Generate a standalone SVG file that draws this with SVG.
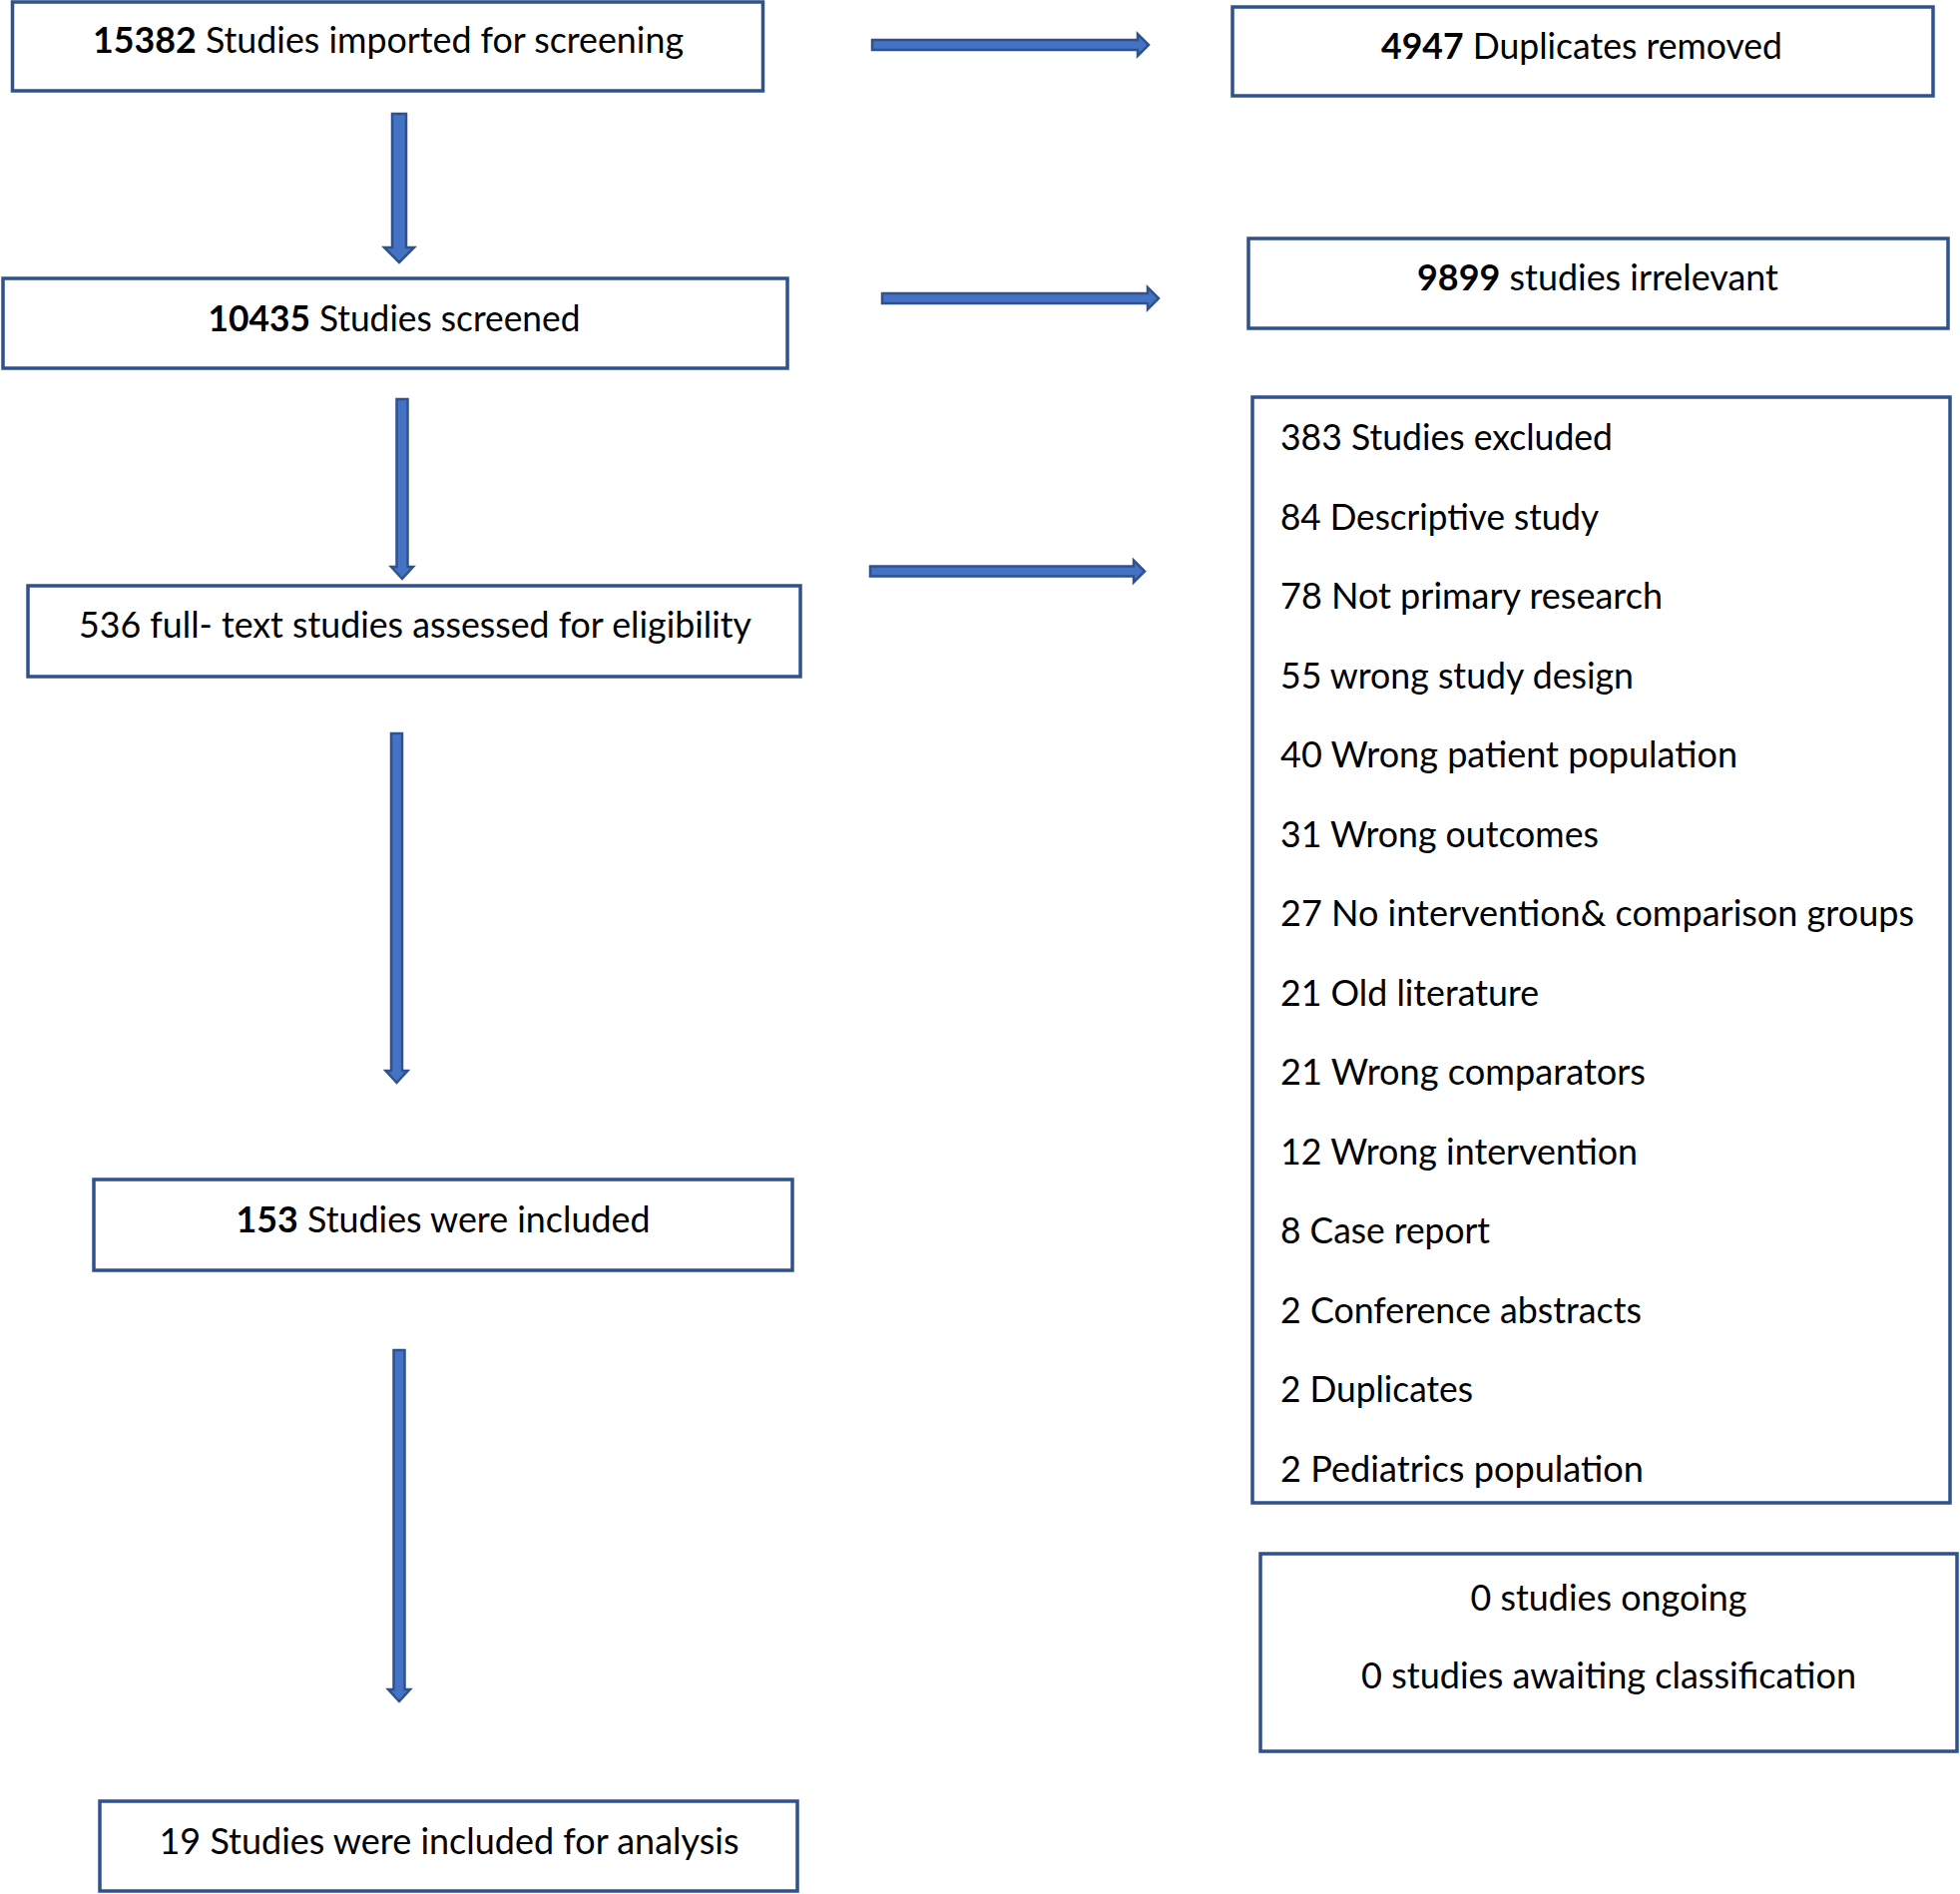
<svg xmlns="http://www.w3.org/2000/svg" width="1964" height="1898" viewBox="0 0 1964 1898">
<style>
.box{fill:#fff;stroke:#2F528F;stroke-width:3.5}
.t{font-family:Lato,"Liberation Sans",sans-serif;font-size:36px;fill:#000}
.c{text-anchor:middle}
.b{font-weight:bold}
.arr{fill:#4472C4;stroke:#2F528F;stroke-width:2.5;stroke-linejoin:miter}
</style>
<rect width="1964" height="1898" fill="#fff"/>
<g id="connectors">
<path class="arr" d="M393,114 L407,114 L407,248 L415,248 L400,263 L385,248 L393,248 Z"/>
<path class="arr" d="M874,40 L1140,40 L1140,34 L1151,45 L1140,56 L1140,50 L874,50 Z"/>
<path class="arr" d="M884,294 L1150,294 L1150,288 L1161,299 L1150,310 L1150,304 L884,304 Z"/>
<path class="arr" d="M397.5,400 L408.5,400 L408.5,568 L414,568 L403,580 L392,568 L397.5,568 Z"/>
<path class="arr" d="M872,567.5 L1136,567.5 L1136,561.5 L1147,572.5 L1136,583.5 L1136,577.5 L872,577.5 Z"/>
<path class="arr" d="M392,735 L403,735 L403,1073 L408.5,1073 L397.5,1085 L386.5,1073 L392,1073 Z"/>
<path class="arr" d="M394.5,1353 L405.5,1353 L405.5,1693 L411,1693 L400,1705 L389,1693 L394.5,1693 Z"/>
</g>
<g id="imported">
<rect class="box" x="12.5" y="2" width="752" height="89"/>
<text class="t c" x="389" y="53" textLength="592" lengthAdjust="spacingAndGlyphs"><tspan class="b">15382</tspan> Studies imported for screening</text>
</g>
<g id="duplicates">
<rect class="box" x="1235" y="7" width="702" height="89"/>
<text class="t c" x="1585" y="59" textLength="402" lengthAdjust="spacingAndGlyphs"><tspan class="b">4947</tspan> Duplicates removed</text>
</g>
<g id="screened">
<rect class="box" x="3" y="279" width="786" height="90"/>
<text class="t c" x="395" y="332" textLength="373" lengthAdjust="spacingAndGlyphs"><tspan class="b">10435</tspan> Studies screened</text>
</g>
<g id="irrelevant">
<rect class="box" x="1251" y="239" width="701" height="90"/>
<text class="t c" x="1601" y="291" textLength="362" lengthAdjust="spacingAndGlyphs"><tspan class="b">9899</tspan> studies irrelevant</text>
</g>
<g id="fulltext">
<rect class="box" x="28" y="587" width="774" height="91"/>
<text class="t c" x="416" y="639" textLength="674" lengthAdjust="spacingAndGlyphs">536 full- text studies assessed for eligibility</text>
</g>
<g id="excluded">
<rect class="box" x="1255" y="398" width="699" height="1108"/>
<text class="t" x="1283" y="451" textLength="333" lengthAdjust="spacingAndGlyphs">383 Studies excluded</text>
<text class="t" x="1283" y="530.5" textLength="319" lengthAdjust="spacingAndGlyphs">84 Descriptive study</text>
<text class="t" x="1283" y="610" textLength="383" lengthAdjust="spacingAndGlyphs">78 Not primary research</text>
<text class="t" x="1283" y="689.5" textLength="354" lengthAdjust="spacingAndGlyphs">55 wrong study design</text>
<text class="t" x="1283" y="769" textLength="458" lengthAdjust="spacingAndGlyphs">40 Wrong patient population</text>
<text class="t" x="1283" y="848.5" textLength="319" lengthAdjust="spacingAndGlyphs">31 Wrong outcomes</text>
<text class="t" x="1283" y="928" textLength="635" lengthAdjust="spacingAndGlyphs">27 No intervention&amp; comparison groups</text>
<text class="t" x="1283" y="1007.5" textLength="259" lengthAdjust="spacingAndGlyphs">21 Old literature</text>
<text class="t" x="1283" y="1087" textLength="366" lengthAdjust="spacingAndGlyphs">21 Wrong comparators</text>
<text class="t" x="1283" y="1166.5" textLength="358" lengthAdjust="spacingAndGlyphs">12 Wrong intervention</text>
<text class="t" x="1283" y="1246" textLength="210" lengthAdjust="spacingAndGlyphs">8 Case report</text>
<text class="t" x="1283" y="1325.5" textLength="362" lengthAdjust="spacingAndGlyphs">2 Conference abstracts</text>
<text class="t" x="1283" y="1405" textLength="193" lengthAdjust="spacingAndGlyphs">2 Duplicates</text>
<text class="t" x="1283" y="1484.5" textLength="364" lengthAdjust="spacingAndGlyphs">2 Pediatrics population</text>
</g>
<g id="included">
<rect class="box" x="94" y="1182" width="700" height="91"/>
<text class="t c" x="444" y="1235" textLength="415" lengthAdjust="spacingAndGlyphs"><tspan class="b">153</tspan> Studies were included</text>
</g>
<g id="ongoing">
<rect class="box" x="1263" y="1557" width="698" height="198"/>
<text class="t c" x="1612" y="1614" textLength="277" lengthAdjust="spacingAndGlyphs">0 studies ongoing</text>
<text class="t c" x="1612" y="1692" textLength="496" lengthAdjust="spacingAndGlyphs">0 studies awaiting classification</text>
</g>
<g id="analysis">
<rect class="box" x="100" y="1805" width="699" height="90"/>
<text class="t c" x="450" y="1858" textLength="581" lengthAdjust="spacingAndGlyphs">19 Studies were included for analysis</text>
</g>
</svg>
